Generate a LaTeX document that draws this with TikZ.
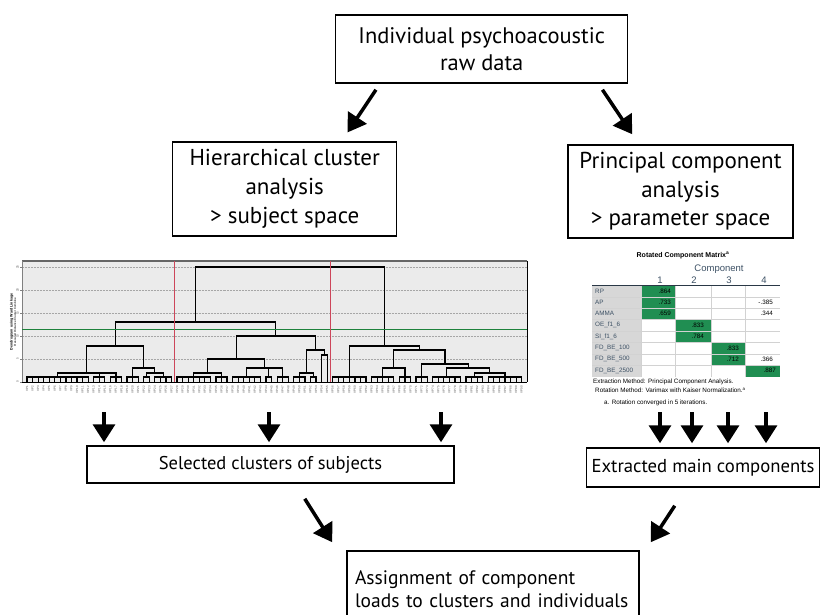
\documentclass[tikz,border=0pt]{standalone}
\usepackage{fontspec}
\setmainfont{PT Sans}
\newfontfamily\spssfont{Liberation Sans}
\usetikzlibrary{arrows.meta}
\definecolor{panelgray}{RGB}{235,235,235}
\definecolor{cutred}{RGB}{205,70,90}
\definecolor{cutgreen}{RGB}{30,130,60}
\definecolor{loadgreen}{RGB}{32,142,82}
\definecolor{labelgray}{RGB}{215,215,215}
\definecolor{spssblue}{RGB}{60,80,100}

\begin{document}
\begin{tikzpicture}[x=1bp,y=-1bp,
        box/.style={draw, line width=1.5bp, inner sep=0pt, align=center},
        bigarrow/.style={line width=3.5bp, -{Triangle[width=22bp,length=18bp]}},
        tree/.style={line width=1.2bp, line cap=rect},
        spss/.style={font=\spssfont\fontsize{6.3bp}{7bp}\selectfont, inner sep=0pt},
        tiny/.style={font=\spssfont\fontsize{3bp}{3.5bp}\selectfont, inner sep=0pt, text=gray!60!black}]
    \useasboundingbox (0,0) rectangle (821,615);

    % flow boxes
    \node[box, minimum width=292bp, minimum height=68bp,
          font=\fontsize{22.5bp}{26.5bp}\selectfont] (raw) at (481.7,49)
        {Individual psychoacoustic\\raw data};
    \node[box, minimum width=224bp, minimum height=94bp,
          font=\fontsize{23bp}{29bp}\selectfont] (hca) at (284.7,189.2)
        {Hierarchical cluster\\analysis\\> subject space};
    \node[box, minimum width=225bp, minimum height=93bp,
          font=\fontsize{23bp}{28.5bp}\selectfont] (pca) at (680.5,191.5)
        {Principal component\\analysis\\> parameter space};
    \node[box, minimum width=367bp, minimum height=37bp,
          font=\fontsize{18.5bp}{22bp}\selectfont] (clus) at (270.5,464.5)
        {Selected clusters of subjects};
    \node[box, minimum width=233bp, minimum height=39bp,
          font=\fontsize{18.7bp}{22bp}\selectfont] (comp) at (703,467.5)
        {Extracted main components};
    \node[box, minimum height=76bp, text width=276bp, inner xsep=8bp, align=left,
          font=\fontsize{19.5bp}{23.5bp}\selectfont] (assign) at (493,589)
        {Assignment of component\\loads to clusters and individuals};

    \draw[bigarrow] ([shift={(41,6)}]raw.south west) -- ([shift={(-50,-9)}]hca.north east);
    \draw[bigarrow] ([shift={(-26,6)}]raw.south east) -- ([shift={(65,-10)}]pca.north west);
    \draw[bigarrow] ([shift={(-150,15)}]clus.south east) -- ([shift={(-14,-8)}]assign.north west);
    \draw[bigarrow] ([shift={(89,18)}]comp.south west) -- ([shift={(11,-8)}]assign.north east);

    \foreach \x [count=\k] in {104,269,441} {
        \coordinate (cut\k) at (\x,412);
        \draw[bigarrow, shorten >=3bp] (cut\k) -- (cut\k |- clus.north);
    }
    \foreach \x [count=\k] in {660,692,728,766} {
        \coordinate (pc\k) at (\x,412);
        \draw[bigarrow, shorten >=4bp] (pc\k) -- (pc\k |- comp.north);
    }

    % dendrogram panel
    \fill[panelgray] (22,261) rectangle (527,382);
    \foreach \y in {267,290,313,336,359}
        \draw[gray!70, densely dotted, line width=0.5bp] (22,\y) -- (527,\y);
    \draw[gray!80!black, line width=1.2bp] (22,261) -- (527,261);
    \draw[line width=0.8bp] (527,261) -- (527,382);
    \draw[gray, line width=0.5bp] (22,261) -- (22,382);
    \foreach \y/\v in {267/25,290/20,313/15,336/10,359/5,382/0} {
        \draw[gray, line width=0.4bp] (20,\y) -- (22,\y);
        \node[tiny, rotate=90] (tick\v) at (17.5,\y) {\v};
    }
    \node[tiny, rotate=90, align=center, text=black] (ytitle) at (13,322)
        {\fontsize{3.6bp}{4bp}\selectfont\bfseries Dendrogram using Ward Linkage\\Rescaled Distance Cluster Combine};
    \foreach \i [evaluate=\i as \n using int(\i+1)] in {0,...,89}
        \node[tiny, rotate=90, anchor=east] (leaf\n) at ({27+5.558*\i},386) {VP\n};

    % leaf groups
    \foreach \a/\b in {0/11,12/14,15/17,18/20,21/22,23/26,27/33,34/36,37/42,43/44,
                       45/47,48/50,51/52,55/61,62/66,67/69,70/72,73/78,79/82,83/89} {
        \foreach \i in {\a,...,\b}
            \draw[tree] ({27+5.558*\i},382) -- ({27+5.558*\i},377);
        \draw[tree] ({27+5.558*\a},377) -- ({27+5.558*\b},377);
    }
    \draw[tree] (321.57,382) |- (327.13,355) -- (327.13,382);
    % left cluster
    \draw[tree] (57.57,377) |- (115.93,373) -- (115.93,377);
    \draw[tree] (99.26,377) -- (99.26,373);
    \draw[tree] (146.50,377) |- (163.17,373) -- (163.17,377);
    \draw[tree] (132.60,377) |- (154.84,368) -- (154.84,373);
    \draw[tree] (86.75,373) |- (143.72,346) -- (143.72,368);
    % middle cluster
    \draw[tree] (193.74,377) |- (221.53,373) -- (221.53,377);
    \draw[tree] (246.55,377) |- (282.67,368) -- (282.67,377);
    \draw[tree] (268.78,377) -- (268.78,368);
    \draw[tree] (207.64,373) |- (264.61,359) -- (264.61,368);
    \draw[tree] (299.34,377) |- (313.24,373) -- (313.24,377);
    \draw[tree] (306.29,373) |- (324.35,350) -- (324.35,355);
    \draw[tree] (236.13,359) |- (315.32,336) -- (315.32,350);
    \draw[tree] (115.24,346) |- (275.73,322) -- (275.73,336);
    % right cluster
    \draw[tree] (382.72,377) |- (404.95,368) -- (404.95,377);
    \draw[tree] (474.42,377) |- (504.99,373) -- (504.99,377);
    \draw[tree] (446.63,377) |- (489.71,368) -- (489.71,373);
    \draw[tree] (421.62,377) |- (468.17,364) -- (468.17,368);
    \draw[tree] (393.84,368) |- (444.90,350) -- (444.90,364);
    \draw[tree] (349.37,377) |- (419.37,346) -- (419.37,350);
    \draw[tree] (195.49,322) |- (384.37,267) -- (384.37,346);
    \draw[line width=0.9bp] (22,382) -- (527,382);

    \draw[cutgreen, line width=0.9bp] (22,329) -- (527,329);
    \draw[cutred, line width=1.2bp] (174.3,261) -- (174.3,382);
    \draw[cutred, line width=1.2bp] (330.6,261) -- (330.6,382);

    % component matrix
    \node[spss, font=\spssfont\bfseries\fontsize{7bp}{8bp}\selectfont] (mtitle) at (683,255)
        {Rotated Component Matrix\textsuperscript{a}};
    \node[spss, font=\spssfont\fontsize{9.5bp}{10bp}\selectfont, text=spssblue] (comphead) at (719,269) {Component};
    \foreach \x [count=\k] in {660,694,729,764}
        \node[spss, font=\spssfont\fontsize{9.5bp}{10bp}\selectfont, text=spssblue] (col\k) at (\x,280) {\k};
    \fill[labelgray] (592.3,285.3) rectangle (641,376.5);
    \fill[loadgreen] (641,285.3) rectangle (675,319.5);
    \fill[loadgreen] (675,319.5) rectangle (710.7,342.3);
    \fill[loadgreen] (710.7,342.3) rectangle (745,365.1);
    \fill[loadgreen] (745,365.1) rectangle (780,376.5);
    \foreach \r in {1,...,7}
        \draw[gray!35, line width=0.4bp] (592.3,{285.3+11.4*\r}) -- (780,{285.3+11.4*\r});
    \foreach \x in {641,675,710.7,745}
        \draw[gray!35, line width=0.4bp] (\x,285.3) -- (\x,376.5);
    \draw[spssblue!70!black, line width=1bp] (592.3,285.3) -- (780,285.3);
    \foreach \lab [count=\r from 0] in {RP,AP,AMMA,OE\_f1\_6,SI\_f1\_6,FD\_BE\_100,FD\_BE\_500,FD\_BE\_2500}
        \node[spss, anchor=west, text=spssblue] (row\r) at (595,{291+11.4*\r}) {\lab};
    \foreach \x/\r/\v in {671/0/.864,671/1/.733,671/2/.659,704/3/.833,704/4/.784,
                          739/5/.833,739/6/.712,776/7/.887,773/1/-.385,773/2/.344,773/6/.366}
        \node[spss, anchor=east] (val\x-\r) at (\x,{291+11.4*\r}) {\v};
    \node[spss, anchor=west] (note1) at (593,382.3) {Extraction Method: Principal Component Analysis.};
    \node[spss, anchor=west] (note2) at (595,390.3) {Rotation Method: Varimax with Kaiser Normalization.\textsuperscript{a}};
    \node[spss, anchor=west] (note3) at (604,402.7) {a. Rotation converged in 5 iterations.};
\end{tikzpicture}
\end{document}
